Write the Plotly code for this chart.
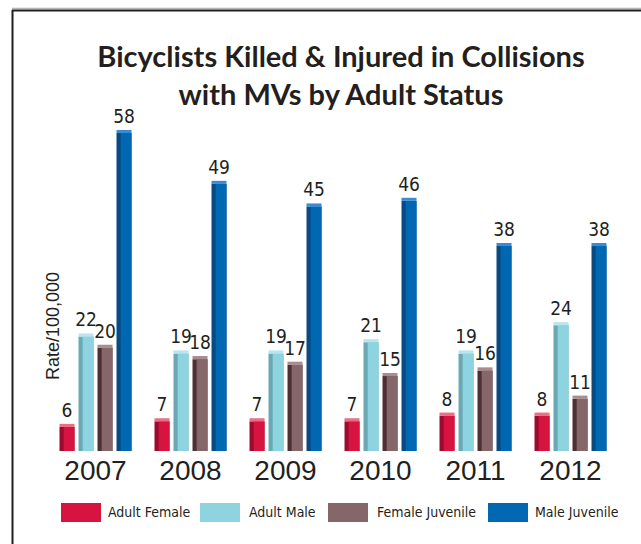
import plotly.graph_objects as go

years = ["2007", "2008", "2009", "2010", "2011", "2012"]
series_names = ["Adult Female", "Adult Male", "Female Juvenile", "Male Juvenile"]
adult_female = [6, 7, 7, 7, 8, 8]
adult_male = [22, 19, 19, 21, 19, 24]
female_juvenile = [20, 18, 17, 15, 16, 11]
male_juvenile = [58, 49, 45, 46, 38, 38]
series_values = [adult_female, adult_male, female_juvenile, male_juvenile]

# front face, shaded side face, lit top cap
front_colors = ["#D7143F", "#8DD4E0", "#85676A", "#0068B2"]
side_colors = ["#9C0B2E", "#6AA9B4", "#4E3034", "#0A4A82"]
cap_colors = ["#EB6F84", "#B9E6EE", "#A88C8F", "#3C8AD2"]

NARROW = "Liberation Sans Narrow, DejaVu Sans Condensed, sans-serif"

W, H = 641, 544
ML, MR, MT, MB = 48, 23, 100, 93
PW, PH = W - ML - MR, H - MT - MB
Y_MIN, Y_MAX = 1.75, 63.85
CAP = 0.55

def px_x(px):
    return (px - ML) / PW

def px_y(py):
    return (H - MB - py) / PH

slot = 0.2
bar_w = 0.158
side_w = 0.044

fig = go.Figure()
for i, (name, vals) in enumerate(zip(series_names, series_values)):
    off = -0.4 + i * slot + (slot - bar_w) / 2
    fig.add_trace(go.Bar(
        x=years, y=vals, name=name, offset=off, width=bar_w,
        marker=dict(color=side_colors[i], line=dict(width=0)),
        showlegend=False, hoverinfo="skip"))
    fig.add_trace(go.Bar(
        x=years, y=vals, name=name, offset=off + side_w, width=bar_w - side_w,
        marker=dict(color=front_colors[i], line=dict(width=0)),
        showlegend=False))
    fig.add_trace(go.Bar(
        x=years, y=[CAP] * len(vals), base=vals, name=name,
        offset=off, width=bar_w,
        marker=dict(color=cap_colors[i], line=dict(width=0)),
        text=[str(v) for v in vals], textposition="outside",
        constraintext="none",
        textfont=dict(family=NARROW, size=19, color="#231F20"),
        cliponaxis=False, showlegend=False, hoverinfo="skip"))

shapes = []
annotations = []

# legend drawn as swatches with labels
legend_items = [(61, 106), (200, 247), (328, 375), (488, 533)]
for i, (sx, tx) in enumerate(legend_items):
    shapes.append(dict(type="rect", xref="paper", yref="paper",
                       x0=px_x(sx), x1=px_x(sx + 40), y0=px_y(503), y1=px_y(522),
                       fillcolor=front_colors[i], line=dict(width=0)))
    annotations.append(dict(x=px_x(tx), y=px_y(512), xref="paper", yref="paper",
                            text=series_names[i], showarrow=False,
                            xanchor="left", yanchor="middle",
                            font=dict(family=NARROW, size=14, color="#231F20")))

# frame lines
shapes.append(dict(type="line", xref="paper", yref="paper",
                   x0=px_x(12), x1=px_x(W + 5), y0=px_y(8.5), y1=px_y(8.5),
                   line=dict(color="#B5B5B5", width=1.5)))
shapes.append(dict(type="line", xref="paper", yref="paper",
                   x0=px_x(12), x1=px_x(W + 5), y0=px_y(10.5), y1=px_y(10.5),
                   line=dict(color="#231F20", width=2)))
shapes.append(dict(type="line", xref="paper", yref="paper",
                   x0=px_x(12.5), x1=px_x(12.5), y0=px_y(10), y1=px_y(H + 5),
                   line=dict(color="#231F20", width=2)))

annotations.append(dict(x=px_x(53), y=px_y(326), xref="paper", yref="paper",
                        text="Rate/100,000", showarrow=False, textangle=-90,
                        xanchor="center", yanchor="middle",
                        font=dict(family="Liberation Sans, Arial, sans-serif",
                                  size=18, color="#231F20")))

fig.update_layout(
    width=W, height=H,
    margin=dict(l=ML, r=MR, t=MT, b=MB),
    paper_bgcolor="white", plot_bgcolor="white",
    barmode="overlay",
    title=dict(text="Bicyclists Killed & Injured in Collisions<br>with MVs by Adult Status",
               x=341 / W, xanchor="center", y=1 - 67 / H, yanchor="middle",
               font=dict(family="Lato, Liberation Sans, sans-serif", size=29,
                         color="#231F20", weight="bold")),
    xaxis=dict(showgrid=False, zeroline=False, showline=False,
               ticks="", ticklen=0,
               tickfont=dict(family="Liberation Sans, Arial, sans-serif",
                             size=28, color="#231F20")),
    yaxis=dict(range=[Y_MIN, Y_MAX], showgrid=False, zeroline=False,
               showline=False, showticklabels=False, ticks=""),
    shapes=shapes, annotations=annotations,
    showlegend=False,
)

fig.write_html("out.html")
